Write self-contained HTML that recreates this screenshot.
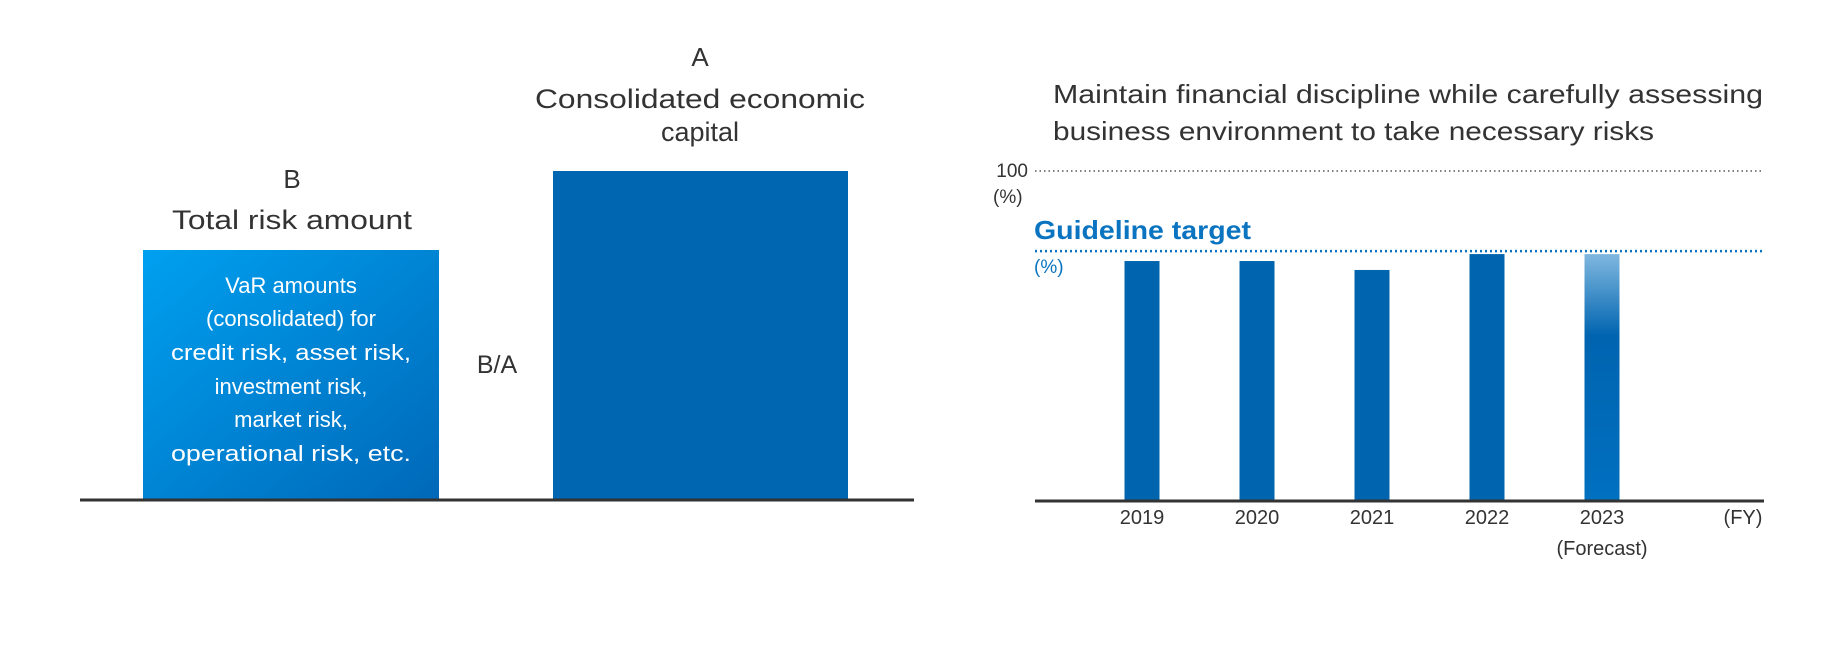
<!DOCTYPE html>
<html><head><meta charset="utf-8"><style>
body{margin:0;background:#fff;}
svg text{font-family:"Liberation Sans",sans-serif;}
</style></head><body>
<svg width="1840" height="640" viewBox="0 0 1840 640" xmlns="http://www.w3.org/2000/svg">
<defs>
<linearGradient id="gB" x1="0" y1="0" x2="1" y2="1"><stop offset="0" stop-color="#00a0f0"/><stop offset="1" stop-color="#0068b8"/></linearGradient>
<linearGradient id="g23" x1="0" y1="0" x2="0" y2="1"><stop offset="0" stop-color="#80b8e0"/><stop offset="0.33" stop-color="#0064b0"/><stop offset="1" stop-color="#0070c0"/></linearGradient>
</defs>
<g>
<text x="700" y="66" font-size="26" text-anchor="middle" fill="#333">A</text>
<text x="700" y="108" font-size="27" text-anchor="middle" fill="#333" textLength="330" lengthAdjust="spacingAndGlyphs">Consolidated economic</text>
<text x="700" y="141" font-size="27" text-anchor="middle" fill="#333">capital</text>
<text x="292" y="188" font-size="26" text-anchor="middle" fill="#333">B</text>
<text x="292" y="229" font-size="27" text-anchor="middle" fill="#333" textLength="240" lengthAdjust="spacingAndGlyphs">Total risk amount</text>
<rect x="143" y="250" width="296" height="250" fill="url(#gB)"/>
<rect x="553" y="171" width="295" height="329" fill="#0066b2"/>
<g font-size="22" fill="#fff" text-anchor="middle">
<text x="291" y="293">VaR amounts</text>
<text x="291" y="326">(consolidated) for</text>
<text x="291" y="360" textLength="240" lengthAdjust="spacingAndGlyphs">credit risk, asset risk,</text>
<text x="291" y="394">investment risk,</text>
<text x="291" y="427">market risk,</text>
<text x="291" y="461" textLength="240" lengthAdjust="spacingAndGlyphs">operational risk, etc.</text>
</g>
<text x="497" y="373" font-size="25" text-anchor="middle" fill="#333">B/A</text>
<line x1="80" y1="500" x2="914" y2="500" stroke="#333" stroke-width="3"/>
</g>
<g>
<text x="1053" y="103" font-size="26" fill="#333" textLength="710" lengthAdjust="spacingAndGlyphs">Maintain financial discipline while carefully assessing</text>
<text x="1053" y="140" font-size="26" fill="#333" textLength="601" lengthAdjust="spacingAndGlyphs">business environment to take necessary risks</text>
<text x="1028" y="177" font-size="19" text-anchor="end" fill="#333">100</text>
<text x="993" y="203" font-size="19" fill="#333">(%)</text>
<text x="1034" y="239" font-size="26" font-weight="bold" fill="#0a74c0" textLength="217" lengthAdjust="spacingAndGlyphs">Guideline target</text>
<text x="1034" y="273" font-size="19" fill="#0a74c0">(%)</text>
<g id="marks"></g>
<line x1="1035" y1="501" x2="1764" y2="501" stroke="#333" stroke-width="3"/>
<text x="1743" y="524" font-size="20" text-anchor="middle" fill="#333">(FY)</text>
</g>
</svg>
<script>
const categories=["2019","2020","2021","2022","2023"];
const values=[72.8,72.8,70.1,74.9,74.9];
const forecastFlags=[false,false,false,false,true];
const maxValue=100;
const guidelineValue=75.8;
const NS="http://www.w3.org/2000/svg";
const y0=502,y100=171,x0=1142,step=115,bw=35;
function yScale(v){return y0-(y0-y100)*v/100;}
function xScale(i){return x0+i*step;}
const g=document.getElementById('marks');
function line(v,color,name,dash,w){
  const l=document.createElementNS(NS,'line');
  l.setAttribute('x1',1035);l.setAttribute('x2',1764);
  l.setAttribute('y1',yScale(v));l.setAttribute('y2',yScale(v));
  l.setAttribute('stroke',color);l.setAttribute('stroke-width',w);l.setAttribute('stroke-dasharray',dash);
  
  
  g.appendChild(l);
}
line(maxValue,'#555','max-gridline','1.5 3',1.5);
line(guidelineValue,'#0a74c0','guideline-line','2 3',2.5);
categories.forEach((c,i)=>{
  const r=document.createElementNS(NS,'rect');
  r.setAttribute('x',xScale(i)-bw/2);r.setAttribute('width',bw);
  r.setAttribute('y',yScale(values[i]));r.setAttribute('height',y0-yScale(values[i]));
  r.setAttribute('fill',forecastFlags[i]?'url(#g23)':'#0064ae');
  
  
  g.appendChild(r);
  const t=document.createElementNS(NS,'text');
  t.setAttribute('x',xScale(i));t.setAttribute('y',524);t.setAttribute('font-size','20');
  t.setAttribute('text-anchor','middle');t.setAttribute('fill','#333');
  t.textContent=c;
  
  
  g.appendChild(t);
  if(forecastFlags[i]){
    const f=document.createElementNS(NS,'text');
    f.setAttribute('x',xScale(i));f.setAttribute('y',555);f.setAttribute('font-size','20');
    f.setAttribute('text-anchor','middle');f.setAttribute('fill','#333');
    f.textContent='(Forecast)';
    
    
    g.appendChild(f);
  }
});
</script>
</body></html>
